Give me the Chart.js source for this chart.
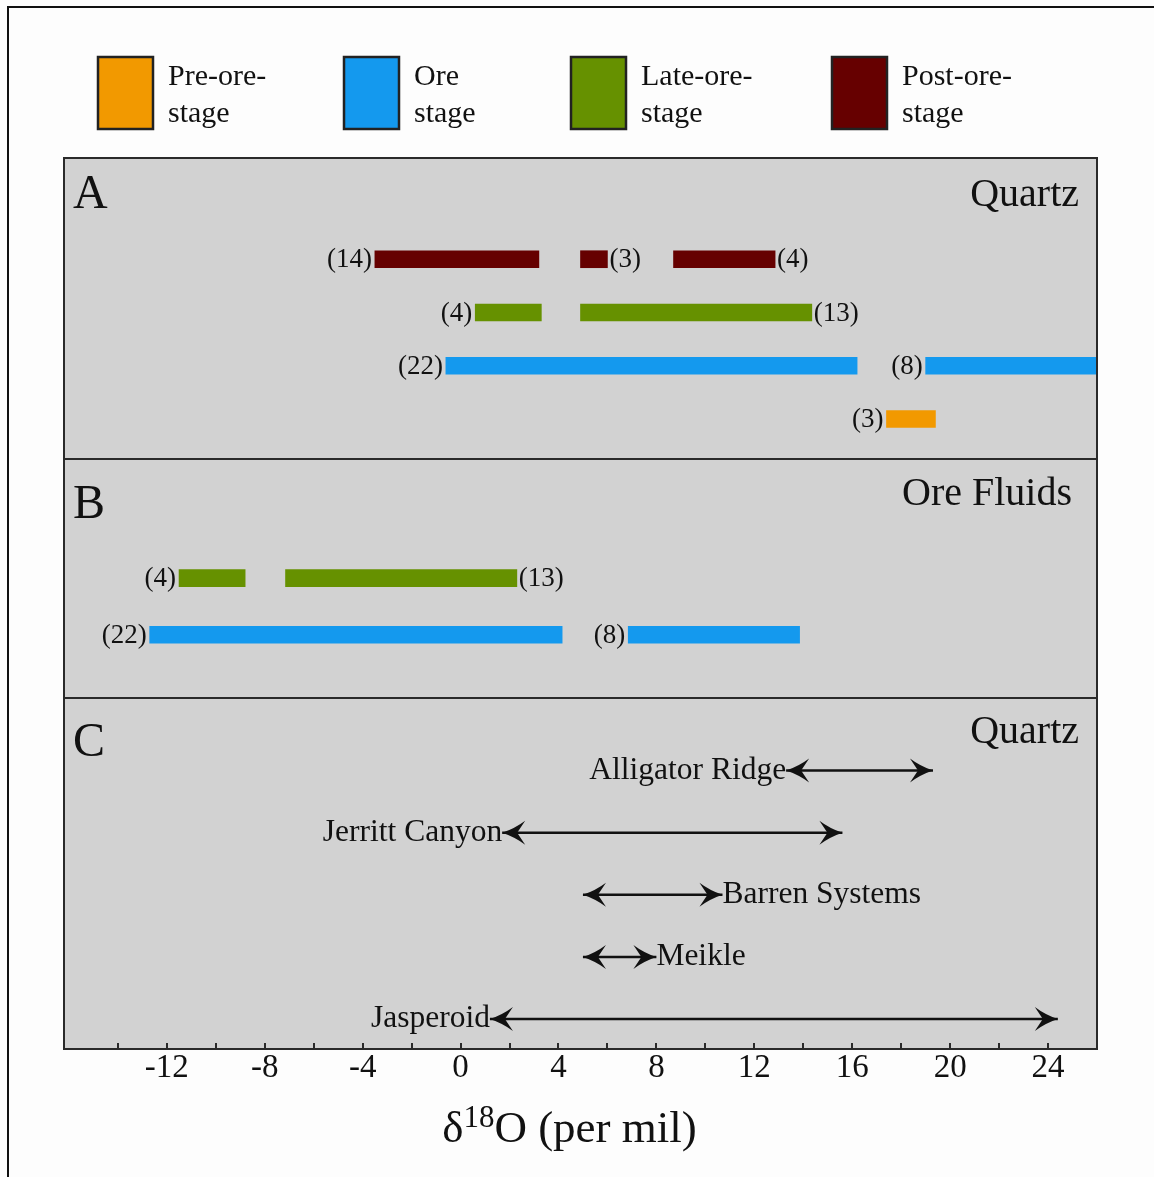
<!DOCTYPE html>
<html>
<head>
<meta charset="utf-8">
<title>δ18O of quartz and ore fluids</title>
<script src="https://cdn.jsdelivr.net/npm/chart.js@4.4.1/dist/chart.umd.min.js"></script>
<style>
  html, body { margin: 0; padding: 0; background: #fdfdfd; overflow: hidden; }
  #frame { position: absolute; left: 7px; top: 6px; width: 1200px; height: 1200px;
           border-top: 2px solid #111; border-left: 2px solid #111; }
  #wrap { position: absolute; left: 0; top: 0; width: 1154px; height: 1177px; }
</style>
</head>
<body>
<div id="frame"></div>
<div id="wrap"><canvas id="chart" width="1154" height="1177"></canvas></div>
<script>
// ---- stages (legend) ----
const stageNames  = [['Pre-ore-', 'stage'], ['Ore', 'stage'], ['Late-ore-', 'stage'], ['Post-ore-', 'stage']];
const stageColors = ['#f29900', '#1499ee', '#669100', '#660000'];

// ---- panel headings ----
const panelLetters = ['A', 'B', 'C'];
const panelTitles  = ['Quartz', 'Ore Fluids', 'Quartz'];

// ---- A: quartz, rows listed top to bottom; each range is [low, high, n] ----
const quartzRows = ['Post-ore', 'Late-ore', 'Ore', 'Pre-ore'];
const quartzPost = [[-3.5, 3.2, 14], [4.9, 6.0, 3], [8.7, 12.85, 4]];
const quartzLate = [[0.6, 3.3, 4], [4.9, 14.35, 13]];
const quartzOre  = [[-0.6, 16.2, 22], [19.0, 26.0, 8]];
const quartzPre  = [[17.4, 19.4, 3]];

// ---- B: ore fluids ----
const fluidRows = ['Late-ore', 'Ore'];
const fluidLate = [[-11.5, -8.8, 4], [-7.15, 2.3, 13]];
const fluidOre  = [[-12.7, 4.15, 22], [6.85, 13.85, 8]];

// which side of each bar its (n) label sits on
const countSide = {
  quartzPost: ['left', 'right', 'right'],
  quartzLate: ['left', 'right'],
  quartzOre:  ['left', 'left'],
  quartzPre:  ['left'],
  fluidLate:  ['left', 'right'],
  fluidOre:   ['left', 'left']
};

// ---- C: quartz ranges of other deposits ----
const districts    = ['Alligator Ridge', 'Jerritt Canyon', 'Barren Systems', 'Meikle', 'Jasperoid'];
const districtLow  = [13.3, 1.7, 5.0, 5.0, 1.2];
const districtHigh = [19.3, 15.6, 10.7, 8.0, 24.4];
const districtSide = ['left', 'left', 'right', 'right', 'left'];

// ---- x axis ----
const xTickValues = [-14, -12, -10, -8, -6, -4, -2, 0, 2, 4, 6, 8, 10, 12, 14, 16, 18, 20, 22, 24];
const xTickLabels = ['-12', '-8', '-4', '0', '4', '8', '12', '16', '20', '24'];

const SERIF = '"Liberation Serif", "Times New Roman", serif';
const INK = '#111';

function rangeBars(ranges, rowName, rows, stageIndex, axisId, sides) {
  return {
    type: 'bar',
    indexAxis: 'y',
    xAxisID: 'x',
    yAxisID: axisId,
    grouped: false,
    data: ranges.map(r => ({ x: [r[0], r[1]], y: rows.indexOf(rowName), n: r[2] })),
    countSides: sides,
    backgroundColor: stageColors[stageIndex],
    borderWidth: 0,
    barPercentage: 1,
    categoryPercentage: 1,
    maxBarThickness: 17
  };
}

const datasets = [
  rangeBars(quartzPost, 'Post-ore', quartzRows, 3, 'yA', countSide.quartzPost),
  rangeBars(quartzLate, 'Late-ore', quartzRows, 2, 'yA', countSide.quartzLate),
  rangeBars(quartzOre,  'Ore',      quartzRows, 1, 'yA', countSide.quartzOre),
  rangeBars(quartzPre,  'Pre-ore',  quartzRows, 0, 'yA', countSide.quartzPre),
  rangeBars(fluidLate,  'Late-ore', fluidRows,  2, 'yB', countSide.fluidLate),
  rangeBars(fluidOre,   'Ore',      fluidRows,  1, 'yB', countSide.fluidOre)
];

districts.forEach((name, i) => {
  datasets.push({
    type: 'line',
    label: name,
    xAxisID: 'x',
    yAxisID: 'yC',
    data: [{ x: districtLow[i], y: i }, { x: districtHigh[i], y: i }],
    borderColor: INK,
    borderWidth: 2.5,
    pointRadius: 0,
    pointHoverRadius: 0,
    labelSide: districtSide[i]
  });
});

function hiddenY(min, max, weight, stackWeight) {
  return {
    type: 'linear',
    position: 'left',
    stack: 'panels',
    stackWeight: stackWeight,
    weight: weight,
    reverse: true,
    offset: false,
    min: min,
    max: max,
    grid: { display: false, drawTicks: false, offset: false },
    border: { display: false },
    ticks: { display: false, stepSize: 1 }
  };
}

// grey panel background
const panelFill = {
  id: 'panelFill',
  beforeDatasetsDraw(chart) {
    const { ctx, chartArea: a } = chart;
    ctx.save();
    ctx.fillStyle = '#d2d2d2';
    ctx.fillRect(a.left, a.top, a.right - a.left, a.bottom - a.top);
    ctx.restore();
  }
};

function arrowHead(ctx, x, y, dir) {
  const L = 23, H = 12, notch = 8;
  ctx.beginPath();
  ctx.moveTo(x, y);
  ctx.quadraticCurveTo(x - dir * L * 0.55, y - H * 0.35, x - dir * L, y - H);
  ctx.lineTo(x - dir * (L - notch), y);
  ctx.lineTo(x - dir * L, y + H);
  ctx.quadraticCurveTo(x - dir * L * 0.55, y + H * 0.35, x, y);
  ctx.closePath();
  ctx.fill();
}

// frames, headings, count labels, arrow heads, legend, ticks and axis title
const decorations = {
  id: 'decorations',
  afterDatasetsDraw(chart) {
    const { ctx, chartArea: a, scales } = chart;
    ctx.save();

    // (n) labels beside the bars
    ctx.fillStyle = INK;
    ctx.font = '27px ' + SERIF;
    ctx.textBaseline = 'middle';
    chart.data.datasets.forEach((ds, di) => {
      if (ds.type !== 'bar') return;
      const meta = chart.getDatasetMeta(di);
      meta.data.forEach((el, i) => {
        const lo = Math.min(el.x, el.base), hi = Math.max(el.x, el.base);
        const txt = '(' + ds.data[i].n + ')';
        if (ds.countSides[i] === 'left') {
          ctx.textAlign = 'right';
          ctx.fillText(txt, lo - 3, el.y + 1);
        } else {
          ctx.textAlign = 'left';
          ctx.fillText(txt, hi + 2, el.y + 1);
        }
      });
    });

    // double arrows with their names
    ctx.font = '31.5px ' + SERIF;
    chart.data.datasets.forEach((ds, di) => {
      if (ds.type !== 'line') return;
      const pts = chart.getDatasetMeta(di).data;
      const p0 = pts[0], p1 = pts[1];
      ctx.fillStyle = INK;
      arrowHead(ctx, p0.x, p0.y, -1);
      arrowHead(ctx, p1.x, p1.y, 1);
      if (ds.labelSide === 'left') {
        ctx.textAlign = 'right';
        ctx.fillText(ds.label, p0.x, p0.y);
      } else {
        ctx.textAlign = 'left';
        ctx.fillText(ds.label, p1.x, p1.y);
      }
    });

    // panel frames and headings
    const letterDrop = [50, 59, 58];
    const titleDrop = [48, 46, 45];
    const titleInset = [18, 25, 18];
    ['yA', 'yB', 'yC'].forEach((id, k) => {
      const s = scales[id];
      ctx.strokeStyle = '#2a2a2a';
      ctx.lineWidth = 2;
      ctx.strokeRect(a.left, s.top, a.right - a.left, s.bottom - s.top);
      ctx.fillStyle = INK;
      ctx.textBaseline = 'alphabetic';
      ctx.textAlign = 'left';
      ctx.font = '48px ' + SERIF;
      ctx.fillText(panelLetters[k], a.left + 9, s.top + letterDrop[k]);
      ctx.textAlign = 'right';
      ctx.font = '40px ' + SERIF;
      ctx.fillText(panelTitles[k], a.right - titleInset[k], s.top + titleDrop[k]);
    });

    // inward tick marks along the bottom
    const x = scales.x;
    ctx.strokeStyle = '#2a2a2a';
    ctx.lineWidth = 2;
    x.ticks.forEach(t => {
      const px = Math.round(x.getPixelForValue(t.value));
      ctx.beginPath();
      ctx.moveTo(px, a.bottom);
      ctx.lineTo(px, a.bottom - 6);
      ctx.stroke();
    });

    // legend
    const boxX = [98, 344, 571, 832];
    stageNames.forEach((lines, i) => {
      ctx.fillStyle = stageColors[i];
      ctx.fillRect(boxX[i], 57, 55, 72);
      ctx.strokeStyle = '#222';
      ctx.lineWidth = 2.5;
      ctx.strokeRect(boxX[i], 57, 55, 72);
      ctx.fillStyle = INK;
      ctx.font = '30px ' + SERIF;
      ctx.textAlign = 'left';
      ctx.textBaseline = 'alphabetic';
      lines.forEach((ln, j) => ctx.fillText(ln, boxX[i] + 70, 85 + j * 37));
    });

    // axis title: δ18O (per mil)
    const big = '45px ' + SERIF, small = '31px ' + SERIF;
    const parts = [['δ', big, 0], ['18', small, -15], ['O (per mil)', big, 0]];
    let w = 0;
    parts.forEach(p => { ctx.font = p[1]; w += ctx.measureText(p[0]).width; });
    let cx = (a.left + a.right) / 2 - w / 2 - 11;
    ctx.textAlign = 'left';
    parts.forEach(p => {
      ctx.font = p[1];
      ctx.fillText(p[0], cx, 1142 + p[2]);
      cx += ctx.measureText(p[0]).width;
    });

    ctx.restore();
  }
};

new Chart(document.getElementById('chart'), {
  type: 'bar',
  data: { datasets: datasets },
  options: {
    responsive: false,
    animation: false,
    events: [],
    layout: { padding: { left: 64, right: 57, top: 158, bottom: 68 } },
    plugins: { legend: { display: false }, tooltip: { enabled: false } },
    scales: {
      x: {
        type: 'linear',
        position: 'bottom',
        offset: false,
        min: -16.2,
        max: 26,
        grid: { display: false, drawTicks: false, offset: false },
        border: { display: false },
        afterBuildTicks(scale) { scale.ticks = xTickValues.map(v => ({ value: v })); },
        afterFit(scale) { scale.height = 60; },
        ticks: {
          autoSkip: false,
          maxRotation: 0,
          padding: 0,
          color: INK,
          font: { family: SERIF, size: 33 },
          callback: v => (xTickLabels.includes(String(v)) ? String(v) : '')
        }
      },
      yA: hiddenY(-1.9, 3.75, 3, 301),
      yB: hiddenY(-2.1, 2.116, 2, 239),
      yC: hiddenY(-1.169, 4.483, 1, 351)
    }
  },
  plugins: [panelFill, decorations]
});
</script>
</body>
</html>
